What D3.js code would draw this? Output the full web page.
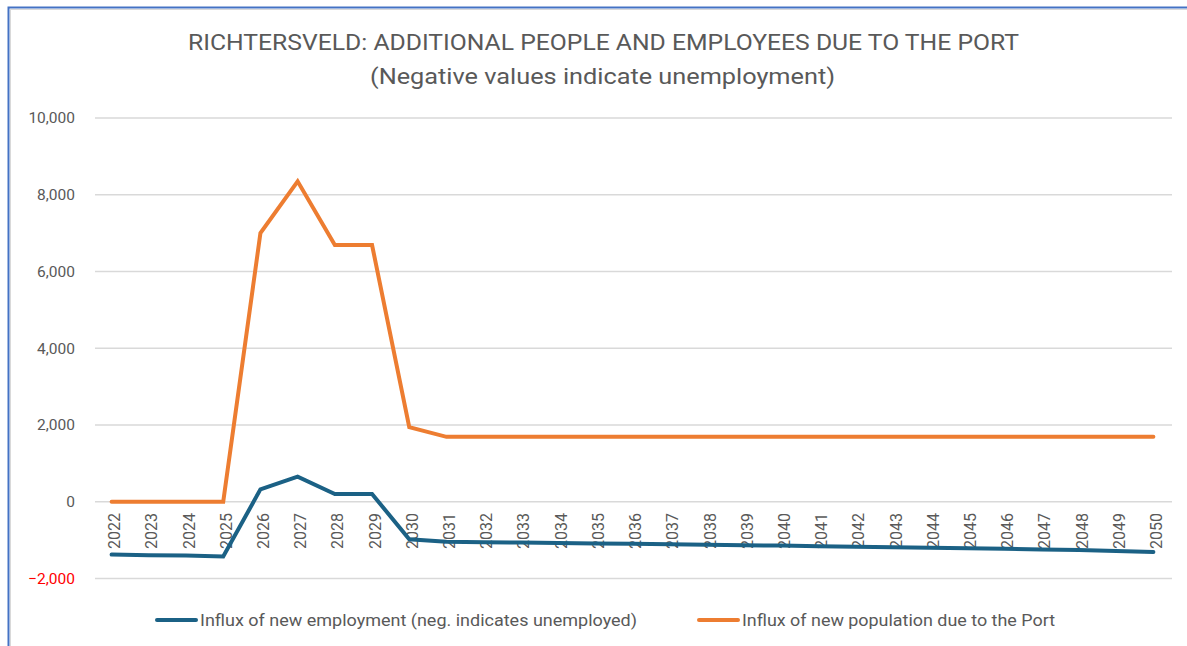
<!DOCTYPE html>
<html>
<head>
<meta charset="utf-8">
<script src="https://cdn.jsdelivr.net/npm/d3@7"></script>
<style>
  html, body { margin: 0; padding: 0; background: #fff; }
  svg { display: block; }
  text { font-family: Roboto, "Open Sans", sans-serif; }
</style>
</head>
<body>
<svg id="chart" width="1187" height="646"></svg>
<script>
// Years on the category axis
const years = ["2022","2023","2024","2025","2026","2027","2028","2029","2030","2031","2032","2033","2034","2035","2036","2037","2038","2039","2040","2041","2042","2043","2044","2045","2046","2047","2048","2049","2050"];

// Influx of new employment (negative = unemployed)
const employment = [-1380,-1395,-1405,-1430,320,650,200,200,-980,-1045,-1055,-1065,-1075,-1090,-1100,-1110,-1120,-1135,-1145,-1165,-1175,-1190,-1200,-1215,-1230,-1245,-1260,-1285,-1310];

// Influx of new population due to the Port
const population = [0,0,0,0,7000,8350,6690,6690,1940,1690,1690,1690,1690,1690,1690,1690,1690,1690,1690,1690,1690,1690,1690,1690,1690,1690,1690,1690,1690];

// Value axis ticks
const yTicks = [-2000,0,2000,4000,6000,8000,10000];

const seriesNames = ["Influx of new employment (neg. indicates unemployed)", "Influx of new population due to the Port"];
const seriesColors = ["#1B6185", "#ED7D31"];

const svg = d3.select("#chart");

// Frame
svg.append("rect").attr("x", 8.5).attr("y", 7.5).attr("width", 1200).attr("height", 700)
  .attr("fill", "#fff").attr("stroke", "#4472C4").attr("stroke-width", 2);
svg.append("rect").attr("x", 10.5).attr("y", 9.5).attr("width", 1200).attr("height", 700)
  .attr("fill", "none").attr("stroke", "#d9d9d9").attr("stroke-width", 1);

const x = d3.scalePoint().domain(years).range([93, 1172]).padding(0.5);
const y = d3.scaleLinear().domain([-2000, 10000]).range([578.4, 118]);

// Titles
svg.append("text").attr("x", 603.5).attr("y", 50).attr("text-anchor", "middle")
  .attr("font-size", 22).attr("fill", "#595959")
  .attr("textLength", 831).attr("lengthAdjust", "spacingAndGlyphs")
  .text("RICHTERSVELD: ADDITIONAL PEOPLE AND EMPLOYEES DUE TO THE PORT");
svg.append("text").attr("x", 602.5).attr("y", 84).attr("text-anchor", "middle")
  .attr("font-size", 22).attr("fill", "#595959")
  .attr("textLength", 465).attr("lengthAdjust", "spacingAndGlyphs")
  .text("(Negative values indicate unemployment)");

// Gridlines
svg.append("g").selectAll("line").data(yTicks).join("line")
  .attr("x1", 95).attr("x2", 1172)
  .attr("y1", d => y(d)).attr("y2", d => y(d))
  .attr("stroke", "#d9d9d9").attr("stroke-width", 1.5);

// Value axis labels
const fmt = d3.format(",");
svg.append("g").selectAll("text").data(yTicks).join("text")
  .attr("x", 75).attr("y", d => y(d)).attr("dy", "0.35em")
  .attr("text-anchor", "end").attr("font-size", 15.5)
  .attr("fill", d => d < 0 ? "#FF0000" : "#595959")
  .text(d => fmt(d));

// Category axis labels (rotated)
svg.append("g").selectAll("text").data(years).join("text")
  .attr("transform", d => `translate(${x(d) + 3},513) rotate(-90)`)
  .attr("dy", "0.35em").attr("text-anchor", "end")
  .attr("font-size", 16).attr("fill", "#595959")
  .text(d => d);

// Lines
const line = d3.line().x((d, i) => x(years[i])).y(d => y(d));
[employment, population].forEach((vals, k) => {
  svg.append("path").datum(vals)
    .attr("d", line)
    .attr("fill", "none")
    .attr("stroke", seriesColors[k])
    .attr("stroke-width", 4)
    .attr("stroke-linejoin", "miter")
    .attr("stroke-linecap", "round");
});

// Legend
const legend = [
  { sx: 155, tx: 200, tl: 437 },
  { sx: 697, tx: 742, tl: 313 }
];
legend.forEach((l, k) => {
  svg.append("line").attr("x1", l.sx + 2).attr("x2", l.sx + 41)
    .attr("y1", 620).attr("y2", 620)
    .attr("stroke", seriesColors[k]).attr("stroke-width", 4).attr("stroke-linecap", "round");
  svg.append("text").attr("x", l.tx).attr("y", 620).attr("dy", "0.35em")
    .attr("font-size", 16).attr("fill", "#595959")
    .attr("textLength", l.tl).attr("lengthAdjust", "spacingAndGlyphs")
    .text(seriesNames[k]);
});
</script>
</body>
</html>
